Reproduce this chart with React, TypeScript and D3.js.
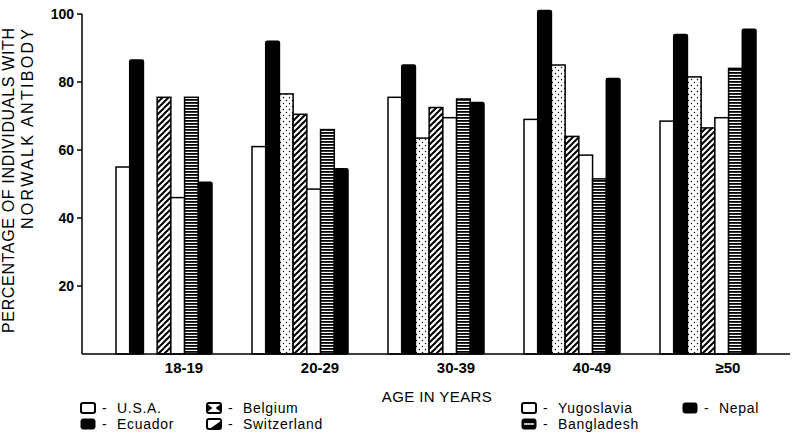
import React from "react";
import * as d3 from "d3";

const groups = ["18-19", "20-29", "30-39", "40-49", "≥50"];
const countries = ["U.S.A.", "Ecuador", "Belgium", "Switzerland", "Yugoslavia", "Bangladesh", "Nepal"];
const usa = [55, 61, 75.5, 69, 68.5];
const ecuador = [86.5, 92, 85, 101, 94];
const belgium: (number | null)[] = [null, 76.5, 63.5, 85, 81.5];
const switzerland = [75.5, 70.5, 72.5, 64, 66.5];
const yugoslavia = [46, 48.5, 69.5, 58.5, 69.5];
const bangladesh = [75.5, 66, 75, 51.5, 84];
const nepal = [50.5, 54.5, 74, 81, 95.5];
const yTicks = [20, 40, 60, 80, 100];

const seriesValues = [usa, ecuador, belgium, switzerland, yugoslavia, bangladesh, nepal];
const fills = ["#fff", "#000", "url(#dots)", "url(#diag)", "#fff", "url(#hstripes)", "#000"];

const FONT = "'Liberation Sans', Arial, Helvetica, sans-serif";

export default function App() {
  const W = 792, H = 435;
  const left = 82, right = 790, top = 14, bottom = 354;
  const x = d3.scaleBand<string>().domain(groups).range([left, right]).paddingInner(0.294).paddingOuter(0.25);
  const xi = d3.scaleBand<string>().domain(countries).range([0, x.bandwidth()]);
  const y = d3.scaleLinear().domain([0, 100]).range([bottom, top]);

  const legendItems = [
    { c: 0, sx: 81, row: 0 },
    { c: 1, sx: 81, row: 1 },
    { c: 2, sx: 207, row: 0 },
    { c: 3, sx: 207, row: 1 },
    { c: 4, sx: 522, row: 0 },
    { c: 5, sx: 522, row: 1 },
    { c: 6, sx: 683, row: 0 },
  ];
  const rowY = [403, 419];

  const symbol = (c: number, sx: number, sy: number) => {
    const w = 14, h = 10;
    if (c === 0 || c === 4)
      return <rect x={sx} y={sy} width={w} height={h} rx={2} fill="#fff" stroke="#000" strokeWidth={2} />;
    if (c === 1 || c === 6)
      return <rect x={sx} y={sy} width={w} height={h} rx={2} fill="#000" stroke="#000" strokeWidth={1} />;
    if (c === 2)
      return (
        <g>
          <rect x={sx} y={sy} width={w} height={h} rx={2} fill="#fff" stroke="#000" strokeWidth={2} />
          <path d={`M${sx},${sy + 1}L${sx + 5.5},${sy + h / 2}L${sx},${sy + h - 1}Z`} fill="#000" />
          <path d={`M${sx + w},${sy + 1}L${sx + w - 5.5},${sy + h / 2}L${sx + w},${sy + h - 1}Z`} fill="#000" />
        </g>
      );
    if (c === 3)
      return (
        <g>
          <rect x={sx} y={sy} width={w} height={h} rx={2} fill="#fff" stroke="#000" strokeWidth={2} />
          <path d={`M${sx + w},${sy}L${sx + w},${sy + h}L${sx + 2},${sy + h}Z`} fill="#000" />
          <path d={`M${sx + 3},${sy + h - 1.5}L${sx + w - 1},${sy + 1.5}`} stroke="#fff" strokeWidth={1.6} />
        </g>
      );
    return (
      <g>
        <rect x={sx} y={sy} width={w} height={h} rx={2} fill="#000" stroke="#000" strokeWidth={1} />
        <line x1={sx + 2} x2={sx + w - 2} y1={sy + h / 2} y2={sy + h / 2} stroke="#fff" strokeWidth={1.5} />
      </g>
    );
  };

  return (
    <svg width={W} height={H} style={{ position: "absolute", left: 0, top: 0, display: "block", background: "#fff" }}>
      <defs>
        <pattern id="dots" patternUnits="userSpaceOnUse" width={6} height={6}>
          <rect width={6} height={6} fill="#fff" />
          <circle cx={1.5} cy={1.5} r={0.7} fill="#000" />
          <circle cx={4.5} cy={4.5} r={0.7} fill="#000" />
        </pattern>
        <pattern id="diag" patternUnits="userSpaceOnUse" width={6} height={6}>
          <rect width={6} height={6} fill="#fff" />
          <path d="M0,6L6,0M-1.5,1.5L1.5,-1.5M4.5,7.5L7.5,4.5" stroke="#000" strokeWidth={2} />
        </pattern>
        <pattern id="hstripes" patternUnits="userSpaceOnUse" width={4} height={3}>
          <rect width={4} height={3} fill="#fff" />
          <rect width={4} height={1.8} fill="#000" />
        </pattern>
      </defs>

      {/* bars */}
      {groups.map((g, gi) => (
        <g key={g} transform={`translate(${x(g)},0)`}>
          {countries.map((c, ci) => {
            const v = seriesValues[ci][gi];
            if (v == null) return null;
            const black = fills[ci] === "#000";
            return (
              <rect
                key={c}
                x={xi(c)}
                y={y(v)}
                width={xi.bandwidth()}
                height={y(0) - y(v)}
                fill={fills[ci]}
                stroke="#000"
                strokeWidth={1.5}
                rx={black ? 1.5 : 0}
              />
            );
          })}
        </g>
      ))}

      {/* axes */}
      <line x1={left} x2={left} y1={top} y2={bottom} stroke="#000" strokeWidth={1.5} />
      <line x1={left} x2={right} y1={bottom} y2={bottom} stroke="#000" strokeWidth={1.5} />
      {yTicks.map((t) => (
        <g key={t}>
          <line x1={left - 5} x2={left} y1={y(t)} y2={y(t)} stroke="#000" strokeWidth={1.5} />
          <text x={left - 8} y={y(t)} dy="0.36em" textAnchor="end" fontFamily={FONT} fontSize={14} fontWeight="bold">
            {t}
          </text>
        </g>
      ))}
      {groups.map((g) => (
        <text key={g} x={(x(g) as number) + x.bandwidth() / 2 + 20} y={373} textAnchor="middle" fontFamily={FONT} fontSize={15} fontWeight="bold">
          {g}
        </text>
      ))}
      <text x={437} y={402} textAnchor="middle" fontFamily={FONT} fontSize={15} letterSpacing={0.4}>
        AGE IN YEARS
      </text>

      {/* y title */}
      <text transform="translate(14,28) rotate(-90)" textAnchor="end" fontFamily={FONT} fontSize={16} textLength={305} lengthAdjust="spacing">
        PERCENTAGE OF INDIVIDUALS WITH
      </text>
      <text transform="translate(33,29) rotate(-90)" textAnchor="end" fontFamily={FONT} fontSize={16} textLength={200} lengthAdjust="spacing">
        NORWALK ANTIBODY
      </text>

      {/* legend */}
      {legendItems.map((it) => {
        const sy = rowY[it.row];
        return (
          <g key={it.c}>
            {symbol(it.c, it.sx, sy)}
            <text x={it.sx + 21} y={sy + 10} fontFamily={FONT} fontSize={14}>-</text>
            <text x={it.sx + 36} y={sy + 10} fontFamily={FONT} fontSize={14} letterSpacing={0.7}>
              {countries[it.c]}
            </text>
          </g>
        );
      })}
    </svg>
  );
}
